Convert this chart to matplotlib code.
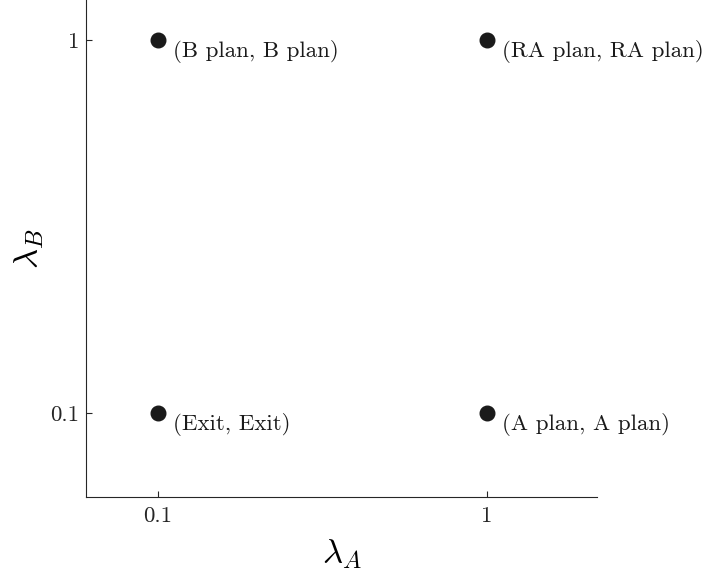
import numpy as np
import matplotlib
matplotlib.use('Agg')
import matplotlib.pyplot as plt

plt.rcParams['font.family'] = ['cmr10', 'DejaVu Serif']
plt.rcParams['mathtext.fontset'] = 'cm'
plt.rcParams['axes.formatter.use_mathtext'] = True

# strategy points (lambda_A, lambda_B) and their equilibrium labels
lam_a = [0.1, 1, 0.1, 1]
lam_b = [1, 1, 0.1, 0.1]
labels = ['(B plan, B plan)', '(RA plan, RA plan)', '(Exit, Exit)', '(A plan, A plan)']

tick_vals = [0.1, 1]
tick_labels = ['0.1', '1']

fig = plt.figure(figsize=(7.05, 5.79), dpi=100)
ax = fig.add_axes([0.122, 0.1416, 0.725, 0.8584])

ax.plot(lam_a, lam_b, 'o', color='#1a1a1a', markersize=10.5, linestyle='none')
for x, y, s in zip(lam_a, lam_b, labels):
    ax.annotate(s, (x, y), xytext=(10.5, -8), textcoords='offset points',
                ha='left', va='center', fontsize=16.5, color='#1a1a1a')

ax.set_xscale('log')
ax.set_yscale('log')
ax.set_xlim(0.0604, 2.16)
ax.set_ylim(0.0596, 1.28)
ax.set_xticks(tick_vals)
ax.set_xticklabels(tick_labels)
ax.set_yticks(tick_vals)
ax.set_yticklabels(tick_labels)
ax.minorticks_off()
ax.tick_params(direction='in', length=4, width=0.8, colors='#262626', labelsize=16.5, pad=5)
ax.tick_params(axis='x', pad=7)

for side in ['top', 'right']:
    ax.spines[side].set_visible(False)
for side in ['left', 'bottom']:
    ax.spines[side].set_color('#262626')
    ax.spines[side].set_linewidth(0.8)

ax.set_xlabel(r'$\lambda_A$', fontsize=25, labelpad=8)
ax.set_ylabel(r'$\lambda_B$', fontsize=25, labelpad=3)

fig.savefig('out.png', dpi=100)
